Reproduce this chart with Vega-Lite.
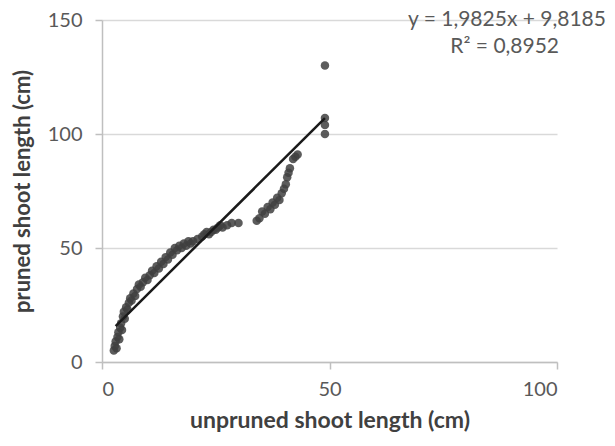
{
  "$schema": "https://vega.github.io/schema/vega-lite/v6.json",
  "width": 455,
  "height": 342,
  "autosize": {"type": "none"},
  "padding": {"left": 102, "top": 20, "right": 58, "bottom": 84},
  "background": "white",
  "config": {
    "view": {"stroke": null},
    "font": "Lato",
    "axis": {
      "labelFont": "Lato",
      "labelFontSize": 20,
      "labelColor": "#595959",
      "titleFont": "Lato",
      "titleFontSize": 23,
      "titleFontWeight": "bold",
      "titleColor": "#404040",
      "domainColor": "#bfbfbf",
      "domainWidth": 1.5,
      "tickColor": "#bfbfbf",
      "tickWidth": 1.5,
      "tickSize": 7,
      "gridColor": "#d9d9d9",
      "gridWidth": 1.5
    }
  },
  "layer": [
    {
      "data": {"values": [
        {"x": 2.6, "y": 5}, {"x": 2.8, "y": 7}, {"x": 3.0, "y": 9}, {"x": 3.2, "y": 6}, {"x": 3.4, "y": 11},
        {"x": 3.6, "y": 13}, {"x": 3.8, "y": 10}, {"x": 4.0, "y": 15}, {"x": 4.2, "y": 17}, {"x": 4.4, "y": 14},
        {"x": 4.6, "y": 20}, {"x": 4.8, "y": 22}, {"x": 5.0, "y": 19}, {"x": 5.3, "y": 24}, {"x": 5.6, "y": 23},
        {"x": 5.9, "y": 26}, {"x": 6.2, "y": 28}, {"x": 6.5, "y": 27}, {"x": 6.9, "y": 30}, {"x": 7.3, "y": 29},
        {"x": 7.7, "y": 32}, {"x": 8.1, "y": 34}, {"x": 8.5, "y": 33}, {"x": 9.0, "y": 35}, {"x": 9.5, "y": 37},
        {"x": 10.0, "y": 36}, {"x": 10.5, "y": 38}, {"x": 11.0, "y": 40}, {"x": 11.5, "y": 39}, {"x": 12.0, "y": 42},
        {"x": 12.5, "y": 41}, {"x": 13.0, "y": 44}, {"x": 13.5, "y": 43}, {"x": 14.0, "y": 46}, {"x": 14.5, "y": 45},
        {"x": 15.0, "y": 48}, {"x": 15.5, "y": 47}, {"x": 16.0, "y": 50}, {"x": 16.5, "y": 49}, {"x": 17.0, "y": 51},
        {"x": 17.5, "y": 50}, {"x": 18.0, "y": 52}, {"x": 18.5, "y": 51}, {"x": 19.0, "y": 53}, {"x": 19.5, "y": 52},
        {"x": 20.0, "y": 53}, {"x": 21.0, "y": 54}, {"x": 22.0, "y": 55}, {"x": 22.5, "y": 56}, {"x": 23.0, "y": 57},
        {"x": 23.5, "y": 56}, {"x": 24.0, "y": 57}, {"x": 24.5, "y": 58}, {"x": 25.0, "y": 58}, {"x": 25.5, "y": 59},
        {"x": 26.0, "y": 60}, {"x": 26.5, "y": 59}, {"x": 27.5, "y": 60}, {"x": 28.5, "y": 61}, {"x": 30.0, "y": 61},
        {"x": 34.0, "y": 62}, {"x": 34.6, "y": 63}, {"x": 35.2, "y": 66}, {"x": 35.8, "y": 65}, {"x": 36.4, "y": 68},
        {"x": 37.0, "y": 67}, {"x": 37.5, "y": 70}, {"x": 38.0, "y": 69}, {"x": 38.5, "y": 72}, {"x": 39.0, "y": 71},
        {"x": 39.5, "y": 74}, {"x": 40.0, "y": 76}, {"x": 40.4, "y": 78}, {"x": 40.7, "y": 81}, {"x": 41.0, "y": 83},
        {"x": 41.3, "y": 85}, {"x": 42.0, "y": 89}, {"x": 42.5, "y": 90}, {"x": 43.0, "y": 91},
        {"x": 49.0, "y": 130}, {"x": 49.0, "y": 107}, {"x": 49.0, "y": 104}, {"x": 49.0, "y": 100}
      ]},
      "mark": {"type": "point", "filled": true, "shape": "circle", "size": 72, "color": "#404040", "opacity": 0.85},
      "encoding": {
        "x": {
          "field": "x", "type": "quantitative",
          "scale": {"domain": [0, 100], "nice": false},
          "axis": {"values": [0, 50, 100], "grid": false, "title": "unpruned shoot length (cm)", "labelPadding": 10, "titlePadding": 10}
        },
        "y": {
          "field": "y", "type": "quantitative",
          "scale": {"domain": [0, 150], "nice": false},
          "axis": {"values": [0, 50, 100, 150], "grid": true, "title": "pruned shoot length (cm)", "titleFontSize": 22, "labelPadding": 13, "titlePadding": 13}
        }
      }
    },
    {
      "data": {"values": [
        {"x": 3, "y": 15.77},
        {"x": 49, "y": 106.96}
      ]},
      "mark": {"type": "line", "color": "#1a1a1a", "strokeWidth": 2.5},
      "encoding": {
        "x": {"field": "x", "type": "quantitative"},
        "y": {"field": "y", "type": "quantitative"}
      }
    },
    {
      "data": {"values": [
        {"x": 89, "y": 150, "label": "y = 1,9825x + 9,8185"},
        {"x": 88.5, "y": 138, "label": "R² = 0,8952"}
      ]},
      "mark": {"type": "text", "fontSize": 21, "font": "Lato", "color": "#595959", "baseline": "middle", "align": "center"},
      "encoding": {
        "x": {"field": "x", "type": "quantitative"},
        "y": {"field": "y", "type": "quantitative"},
        "text": {"field": "label"}
      }
    }
  ]
}
